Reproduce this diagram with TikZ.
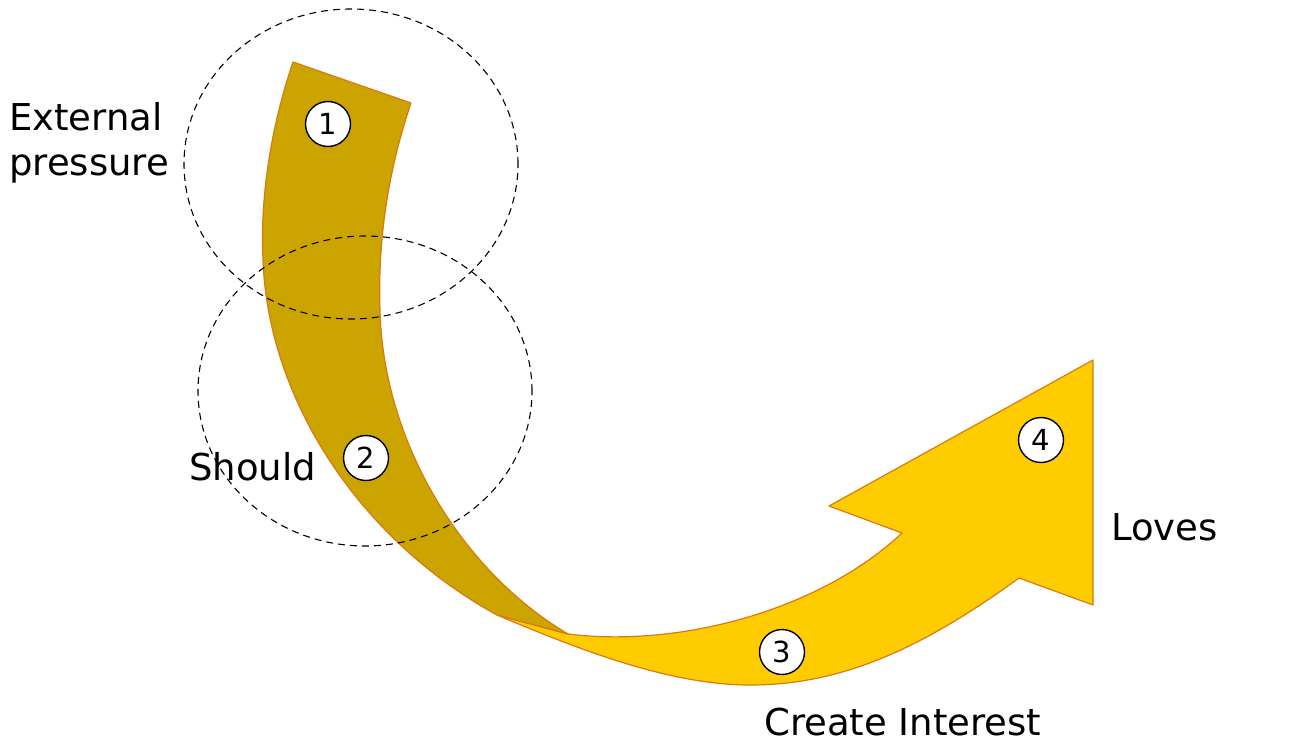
\documentclass[tikz,border=0pt]{standalone}
\usepackage{fontspec}
\setmainfont{DejaVu Sans}
\usetikzlibrary{shapes.geometric,positioning}

\definecolor{darkgold}{HTML}{CCA400}
\definecolor{sunyellow}{HTML}{FFCC00}
\definecolor{rimorange}{HTML}{D97A10}

\begin{document}
\begin{tikzpicture}[
    x=1pt, y=-1pt,
    band/.style={draw=rimorange, line width=1.2pt, line join=round},
    ring/.style={ellipse, draw, dashed, line width=1.1pt, dash pattern=on 7pt off 5pt,
                 minimum width=334pt, minimum height=310pt, inner sep=0pt},
    numcirc/.style={circle, draw, fill=white, line width=1.4pt, minimum size=45pt,
                    inner sep=0pt, font=\fontsize{29}{30}\selectfont},
    lbl/.style={font=\fontsize{37}{45}\selectfont, align=left, inner sep=0pt}
]
    \useasboundingbox (0,0) rectangle (1303,744);

    % yellow arrow
    \draw[band, fill=sunyellow] (497,615) -- (568,634)
        .. controls (680,648) and (820,610) .. (902,533)
        -- (829,506) -- (1093,360) -- (1093,605) -- (1019,578)
        .. controls (920,650) and (840,685) .. (750,685)
        .. controls (670,685) and (580,650) .. (497,615)
        -- cycle;

    % dark band
    \draw[band, fill=darkgold] (293,62) -- (411,103)
        .. controls (385,180) and (378,250) .. (380,310)
        .. controls (383,440) and (460,570) .. (568,634)
        -- (497,615)
        .. controls (360,540) and (268,400) .. (263,260)
        .. controls (260,200) and (270,130) .. (293,62)
        -- cycle;

    % dashed rings
    \node[ring] (ring1) at (351,164) {};
    \node[ring] (ring2) at (365,391) {};

    % numbers
    \node[numcirc] (n1) at (328,124) {1};
    \node[numcirc] (n2) at (366,458) {2};
    \node[numcirc] (n3) at (782,652) {3};
    \node[numcirc] (n4) at (1041,440) {4};

    % labels
    \node[lbl, anchor=west] (ext) at (9,143) {External\\pressure};
    \node[lbl, anchor=west] (should) at (189,467) {Should};
    \node[lbl, anchor=west] (loves) at (1111,527) {Loves};
    \node[lbl, anchor=west] (interest) at (764,722) {Create Interest};
\end{tikzpicture}
\end{document}
